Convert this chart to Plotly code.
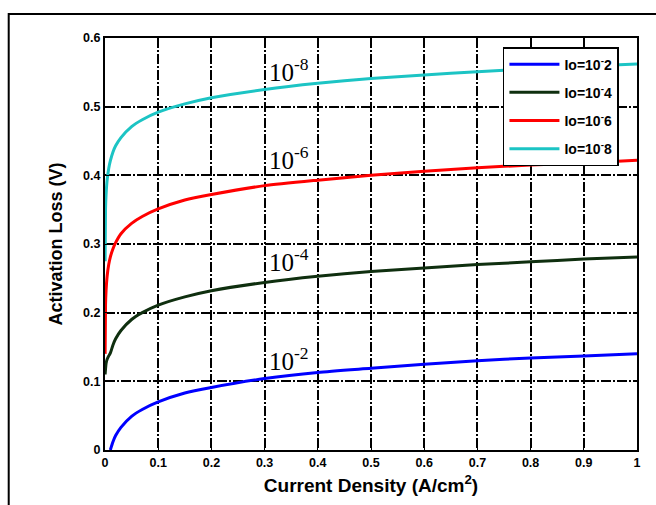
import plotly.graph_objects as go

# Current density sample points (A/cm^2)
current_density = [0.0002, 0.001, 0.002, 0.004, 0.007, 0.01, 0.015, 0.02, 0.03, 0.05,
                   0.07, 0.1, 0.15, 0.2, 0.3, 0.4, 0.5, 0.6, 0.7, 0.8, 0.9, 1.0]

# Activation loss (V) for each exchange current density
loss_io_1e2 = [None, None, None, None, None, 0.0, 0.012, 0.021, 0.033, 0.049,
               0.059, 0.070, 0.083, 0.091, 0.104, 0.113, 0.119, 0.125, 0.130, 0.134, 0.137, 0.140]
loss_io_1e4 = [0.110, 0.118, 0.126, 0.132, 0.137, 0.141, 0.153, 0.162, 0.174, 0.190,
               0.200, 0.211, 0.223, 0.232, 0.244, 0.253, 0.260, 0.265, 0.270, 0.274, 0.278, 0.281]
loss_io_1e6 = [0.140, 0.211, 0.232, 0.253, 0.270, 0.281, 0.293, 0.302, 0.315, 0.330,
               0.340, 0.351, 0.364, 0.372, 0.385, 0.393, 0.400, 0.406, 0.411, 0.415, 0.418, 0.422]
loss_io_1e8 = [0.275, 0.351, 0.372, 0.393, 0.410, 0.421, 0.434, 0.443, 0.455, 0.471,
               0.481, 0.492, 0.504, 0.513, 0.525, 0.534, 0.541, 0.546, 0.551, 0.555, 0.559, 0.562]

legend_names = ["Io=10<sup>-</sup>2", "Io=10<sup>-</sup>4", "Io=10<sup>-</sup>6", "Io=10<sup>-</sup>8"]
curve_labels = ["10<sup>-2</sup>", "10<sup>-4</sup>", "10<sup>-6</sup>", "10<sup>-8</sup>"]
label_x = [0.345, 0.345, 0.345, 0.345]
label_y = [0.132, 0.277, 0.425, 0.553]

x_ticks = [0, 0.1, 0.2, 0.3, 0.4, 0.5, 0.6, 0.7, 0.8, 0.9, 1]
x_tick_text = ["0", "0.1", "0.2", "0.3", "0.4", "0.5", "0.6", "0.7", "0.8", "0.9", "1"]
y_ticks = [0, 0.1, 0.2, 0.3, 0.4, 0.5, 0.6]
y_tick_text = ["0", "0.1", "0.2", "0.3", "0.4", "0.5", "0.6"]

series = [loss_io_1e2, loss_io_1e4, loss_io_1e6, loss_io_1e8]
colors = ["#0000ff", "#0f2f0f", "#ff0000", "#1cc4c4"]

SANS = "Liberation Sans, Arial, sans-serif"

fig = go.Figure()
for i, (ys, name, color) in enumerate(zip(series, legend_names, colors)):
    fig.add_trace(go.Scatter(
        x=current_density, y=ys, name=name, mode="lines",
        line=dict(color=color, width=3, shape="spline", smoothing=0.6),
        legendgroup=f"g{i}", connectgaps=False,
    ))

for txt, xx, yy in zip(curve_labels, label_x, label_y):
    fig.add_annotation(x=xx, y=yy, text=txt, showarrow=False,
                       font=dict(family="Liberation Serif, Times New Roman, serif", size=25, color="black"))

axis_common = dict(
    showline=True, linecolor="black", linewidth=2, mirror="ticks",
    ticks="inside", ticklen=4, tickcolor="black",
    showgrid=True, gridcolor="black", gridwidth=1.5, griddash="10px,2px,2px,2px",
    zeroline=False,
    tickfont=dict(family=SANS, size=12.5, color="black", weight="bold"),
)

fig.update_xaxes(range=[0, 1], tickvals=x_ticks, ticktext=x_tick_text,
                 title=dict(text="Current Density (A/cm<sup>2</sup>)", standoff=10,
                            font=dict(family=SANS, size=19, color="black", weight="bold")),
                 **axis_common)
fig.update_yaxes(range=[0, 0.6], tickvals=y_ticks, ticktext=y_tick_text,
                 title=dict(text="Activation Loss (V)", standoff=16,
                            font=dict(family=SANS, size=18, color="black", weight="bold")),
                 **axis_common)

# Outer figure frame
fig.add_shape(type="rect", xref="paper", yref="paper",
              x0=-0.181, x1=1.05, y0=-0.2, y1=1.058,
              line=dict(color="black", width=2), fillcolor="rgba(0,0,0,0)", layer="below")

fig.update_layout(
    width=656, height=505,
    margin=dict(l=105, r=19, t=38, b=53),
    paper_bgcolor="white", plot_bgcolor="white",
    showlegend=True,
    legend=dict(x=0.748, y=0.978, xanchor="left", yanchor="top",
                bgcolor="white", bordercolor="black", borderwidth=1.5,
                font=dict(family=SANS, size=14, color="black", weight="bold"),
                itemwidth=50, tracegroupgap=7, traceorder="grouped"),
)

fig.write_html("out.html")
